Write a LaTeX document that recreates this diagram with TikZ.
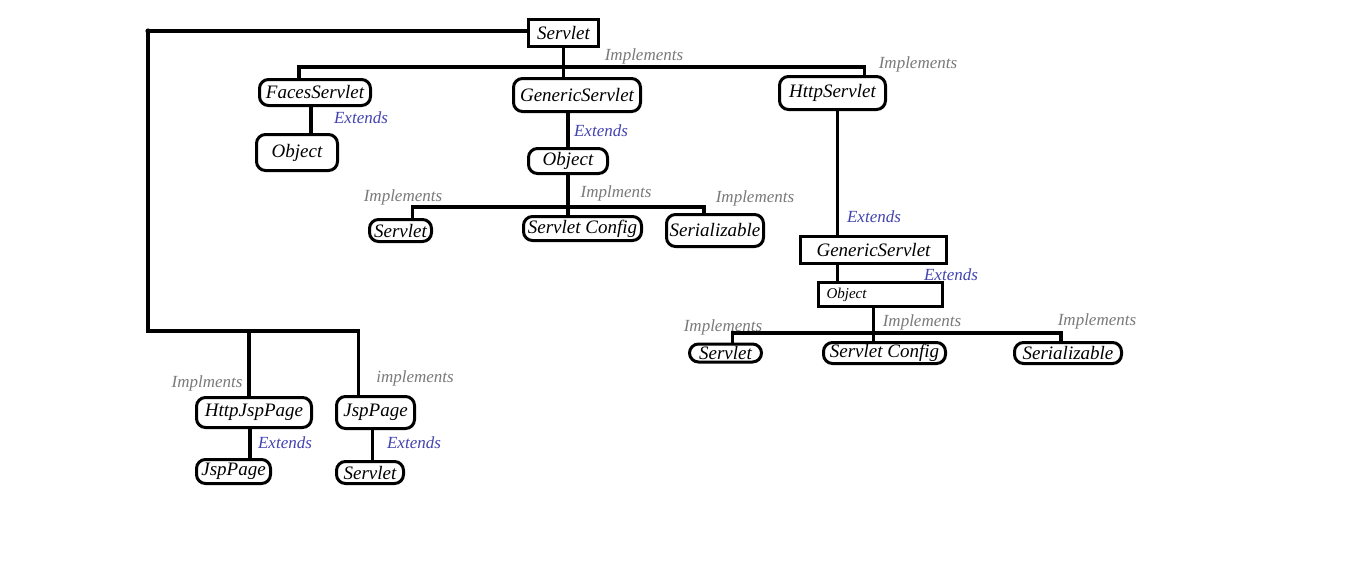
\documentclass[tikz,border=0pt]{standalone}
\usepackage{fontspec}
\setmainfont{Liberation Serif}
\usetikzlibrary{positioning}
\definecolor{implgrey}{HTML}{7A7A7A}
\definecolor{extblue}{HTML}{4444B0}
\tikzset{
  cls/.style={rectangle, rounded corners=9pt, draw=black, line width=3pt,
              inner sep=0pt, font=\fontsize{19}{19}\selectfont\itshape},
  clsq/.style={cls, rounded corners=0pt},
  wire/.style={line width=3.2pt, draw=black},
  impl/.style={font=\fontsize{17}{17}\selectfont\itshape, text=implgrey, inner sep=0pt},
  extd/.style={impl, text=extblue},
}
\begin{document}
\begin{tikzpicture}[x=1pt, y=-1pt]
    \useasboundingbox[fill=white] (0,0) rectangle (1360,560);

    % root and first level
    \node[clsq, minimum width=70, minimum height=27] (srv) at (563.5,33) {Servlet};
    \node[cls, minimum width=111, minimum height=26] (faces) at (315,92.5) {FacesServlet};
    \node[cls, minimum width=81, minimum height=36] (facesobj) at (297,152.5) {Object};
    \node[cls, minimum width=127, minimum height=33] (gen) at (577,95) {GenericServlet};
    \node[cls, minimum width=79, minimum height=25] (genobj) at (568,161) {Object};
    \node[cls, minimum width=106, minimum height=33] (http) at (832.5,93) {HttpServlet};

    % GenericServlet branch
    \node[cls, minimum width=62, minimum height=22] (srvA) at (400.5,230.5) {Servlet};
    \node[cls, minimum width=118, minimum height=24] (cfgA) at (582.5,228.5) {Servlet Config};
    \node[cls, minimum width=97, minimum height=32] (serA) at (715,230.5) {Serializable};

    % HttpServlet branch
    \node[clsq, minimum width=146, minimum height=27] (gen2) at (873.5,250) {GenericServlet};
    \node[clsq, minimum width=124, minimum height=24, text width=108, inner xsep=8pt, align=left,
          font=\fontsize{15}{15}\selectfont\itshape] (obj2) at (880.5,294.5) {Object};
    \node[cls, minimum width=72, minimum height=18] (srvB) at (725.5,353) {Servlet};
    \node[cls, minimum width=122, minimum height=21] (cfgB) at (884.5,353) {Servlet Config};
    \node[cls, minimum width=107, minimum height=21] (serB) at (1068,353) {Serializable};

    % jsp side
    \node[cls, minimum width=115, minimum height=30] (hjsp) at (254,412.5) {HttpJspPage};
    \node[cls, minimum width=78, minimum height=32] (jsp) at (375.5,412.5) {JspPage};
    \node[cls, minimum width=74, minimum height=24] (jsp2) at (233.5,471.5) {JspPage};
    \node[cls, minimum width=67, minimum height=22] (srvC) at (370,472.5) {Servlet};

    % wires
    \coordinate (tl) at (148,31);
    \coordinate (bl) at (148,331);
    \coordinate (bus) at (563,67);
    \coordinate (bus2) at (569,207);
    \coordinate (bus3) at (873,333);
    \fill (tl) circle (2.6pt);
    \draw[wire] (srv.west |- tl) -- (tl) -- (bl) -| ([xshift=-17pt]jsp.north);
    \draw[wire] ([xshift=-5pt]hjsp.north) -- ([xshift=-5pt]hjsp.north |- bl);
    \draw[wire] (srv.south) -- (srv.south |- gen.north);
    \draw[wire] ([xshift=-16pt]faces.north) |- (bus) -| ([xshift=32pt]http.north);
    \draw[wire] ([xshift=-4pt]faces.south) -- ([xshift=-4pt]faces.south |- facesobj.north);
    \draw[wire] (genobj.north) -- (genobj.north |- gen.south);
    \draw[wire] (genobj.south) -- (genobj.south |- cfgA.north);
    \draw[wire] ([xshift=12pt]srvA.north) |- (bus2) -| ([xshift=-11pt]serA.north);
    \draw[wire] ([xshift=5pt]http.south) -- ([xshift=5pt]http.south |- gen2.north);
    \draw[wire] ([xshift=5pt]http.south |- gen2.south) -- ([xshift=5pt]http.south |- obj2.north);
    \draw[wire] ([xshift=-7pt]obj2.south) -- ([xshift=-7pt]obj2.south |- cfgB.north);
    \draw[wire] ([xshift=7pt]srvB.north) |- (bus3) -| ([xshift=-7pt]serB.north);
    \draw[wire] ([xshift=-4pt]hjsp.south) -- ([xshift=-4pt]hjsp.south |- jsp2.north);
    \draw[wire] ([xshift=-3pt]jsp.south) -- ([xshift=-3pt]jsp.south |- srvC.north);

    % labels
    \node[impl] (l1) at (644,56) {Implements};
    \node[impl] (l2) at (918,64) {Implements};
    \node[extd] (l3) at (361,118) {Extends};
    \node[extd] (l4) at (601,131) {Extends};
    \node[impl] (l5) at (403,197) {Implements};
    \node[impl] (l6) at (616,193) {Implments};
    \node[impl] (l7) at (755,198) {Implements};
    \node[extd] (l8) at (874,217) {Extends};
    \node[extd] (l9) at (951,275) {Extends};
    \node[impl] (l10) at (723,327) {Implements};
    \node[impl] (l11) at (922,322) {Implements};
    \node[impl] (l12) at (1097,321) {Implements};
    \node[impl] (l13) at (207,383) {Implments};
    \node[impl] (l14) at (415,378) {implements};
    \node[extd] (l15) at (285,443) {Extends};
    \node[extd] (l16) at (414,443) {Extends};
  \end{tikzpicture}
\end{document}
